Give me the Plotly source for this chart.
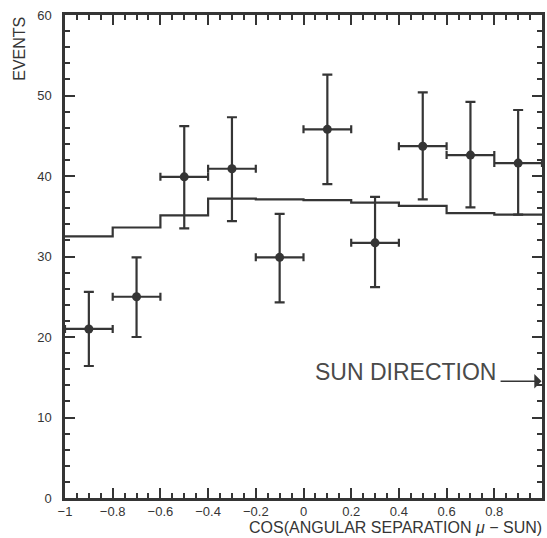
import plotly.graph_objects as go

# Data points (bin centres) with asymmetric vertical errors
x_centers = [-0.9, -0.7, -0.5, -0.3, -0.1, 0.1, 0.3, 0.5, 0.7, 0.9]
events = [21.0, 25.0, 39.9, 40.9, 29.9, 45.8, 31.7, 43.7, 42.6, 41.6]
err_up = [4.6, 4.9, 6.3, 6.4, 5.4, 6.8, 5.7, 6.7, 6.6, 6.6]
err_down = [4.6, 5.0, 6.4, 6.5, 5.6, 6.8, 5.5, 6.6, 6.5, 6.4]
x_half_width = [0.1] * 10

# Expected (Monte Carlo) histogram
bin_edges = [-1.0, -0.8, -0.6, -0.4, -0.2, 0.0, 0.2, 0.4, 0.6, 0.8, 1.0]
expected = [32.5, 33.6, 35.1, 37.2, 37.1, 37.0, 36.7, 36.3, 35.4, 35.2]

ink = "#353535"
font = "Liberation Sans, Arial, sans-serif"

fig = go.Figure()

fig.add_trace(go.Scatter(
    x=bin_edges, y=expected + [expected[-1]],
    mode="lines", line=dict(shape="hv", color=ink, width=2.2),
    hoverinfo="skip", showlegend=False,
))

fig.add_trace(go.Scatter(
    x=x_centers, y=events, mode="markers",
    marker=dict(color=ink, size=9),
    error_y=dict(type="data", symmetric=False, array=err_up, arrayminus=err_down,
                 color=ink, thickness=2.2, width=5),
    error_x=dict(type="data", array=x_half_width, color=ink, thickness=2.2, width=4),
    showlegend=False,
))

axis_common = dict(
    showgrid=False, zeroline=False, showline=True, linecolor=ink, linewidth=2.5,
    mirror="ticks", ticks="inside", tickcolor=ink, tickwidth=2, ticklen=10,
    tickfont=dict(family=font, size=13, color=ink),
)

fig.update_xaxes(
    range=[-1, 1.0], tickvals=[-1, -0.8, -0.6, -0.4, -0.2, 0, 0.2, 0.4, 0.6, 0.8],
    ticktext=["−1", "−0.8", "−0.6", "−0.4", "−0.2", "0", "0.2", "0.4", "0.6", "0.8"],
    minor=dict(dtick=0.05, tick0=-1, ticks="inside", ticklen=5, tickwidth=1.5, tickcolor=ink),
    ticklabelstandoff=0,
    **axis_common,
)
fig.update_yaxes(
    range=[0, 60], tickvals=[0, 10, 20, 30, 40, 50, 60],
    minor=dict(dtick=2, tick0=0, ticks="inside", ticklen=5, tickwidth=1.5, tickcolor=ink),
    ticklabelstandoff=8,
    **axis_common,
)

fig.add_annotation(
    text="EVENTS", xref="paper", yref="paper", x=-0.097, y=1.0,
    xanchor="center", yanchor="top", textangle=-90, showarrow=False,
    font=dict(family=font, size=16, color=ink),
)
fig.add_annotation(
    text="COS(ANGULAR SEPARATION <i>μ</i> − SUN)", xref="paper", yref="paper",
    x=1.004, y=-0.061, xanchor="right", yanchor="middle", showarrow=False,
    font=dict(family=font, size=16, color=ink),
)
fig.add_annotation(
    text="SUN DIRECTION", xref="x", yref="y", x=0.815, y=15.6,
    xanchor="right", yanchor="middle", showarrow=False,
    font=dict(family=font, size=23, color="#4a4a4a"),
)
fig.add_annotation(
    xref="x", yref="y", axref="x", ayref="y",
    x=0.998, y=14.5, ax=0.82, ay=14.5, text="", showarrow=True,
    arrowhead=1, arrowsize=1.6, arrowwidth=1.5, arrowcolor=ink,
)

fig.update_layout(
    width=547, height=538,
    margin=dict(l=65, r=2, t=15, b=40),
    paper_bgcolor="white", plot_bgcolor="white",
)

fig.write_html("out.html")
